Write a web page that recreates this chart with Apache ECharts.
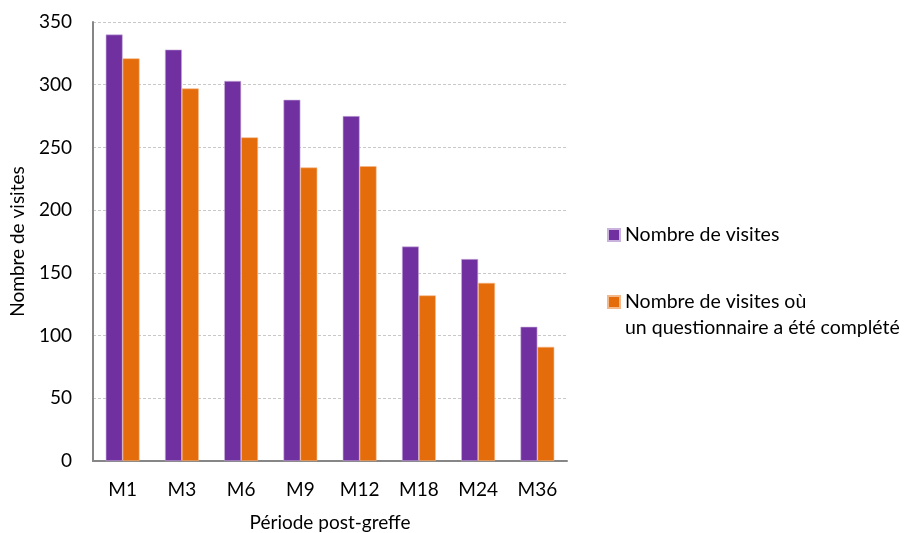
<!DOCTYPE html>
<html>
<head>
<meta charset="utf-8">
<script src="https://cdn.jsdelivr.net/npm/echarts@6/dist/echarts.min.js"></script>
<style>
  html, body { margin: 0; padding: 0; background: #fff; }
  #chart { width: 907px; height: 533px; }
</style>
</head>
<body>
<div id="chart"></div>
<script>
// Visit periods after the transplant
const periods = ['M1', 'M3', 'M6', 'M9', 'M12', 'M18', 'M24', 'M36'];
// Number of visits per period
const visits = [340, 328, 303, 288, 275, 171, 161, 107];
// Number of visits where a questionnaire was completed
const visitsWithQuestionnaire = [321, 297, 258, 234, 235, 132, 142, 91];
// Y axis ticks
const yTicks = [0, 50, 100, 150, 200, 250, 300, 350];

const seriesNames = ['Nombre de visites', 'Nombre de visites où\nun questionnaire a été complété'];

const FONT = 'Lato';
const FS = 19;
const chart = echarts.init(document.getElementById('chart'), null, { renderer: 'canvas' });

chart.setOption({
  animation: false,
  textStyle: { fontFamily: FONT, color: '#000' },
  grid: { left: 93, right: 340, top: 22, bottom: 72, containLabel: false, outerBoundsMode: 'none' },
  legend: [
    {
      data: [seriesNames[0]],
      orient: 'vertical',
      left: 607, top: 225,
      padding: 0,
      itemWidth: 12, itemHeight: 12, itemGap: 0,
      icon: 'rect',
      textStyle: { fontFamily: FONT, fontSize: 19.5, color: '#000' }
    },
    {
      // blank leading line keeps the swatch level with the first text line
      data: [seriesNames[1]],
      orient: 'vertical',
      left: 607, top: 263,
      padding: 0,
      itemWidth: 12, itemHeight: 12, itemGap: 0,
      icon: 'rect',
      formatter: name => '\n' + name,
      textStyle: { fontFamily: FONT, fontSize: 19.5, color: '#000', lineHeight: 26 }
    }
  ],
  xAxis: {
    type: 'category',
    data: periods,
    name: 'Période post-greffe',
    nameLocation: 'middle',
    nameGap: 52,
    nameTextStyle: { fontFamily: FONT, fontSize: FS, color: '#000' },
    axisLine: { lineStyle: { color: '#868686', width: 2 } },
    axisTick: { show: false },
    axisLabel: { fontFamily: FONT, fontSize: FS, color: '#000', margin: 19 }
  },
  yAxis: {
    type: 'value',
    min: yTicks[0],
    max: yTicks[yTicks.length - 1],
    interval: yTicks[1] - yTicks[0],
    name: 'Nombre de visites',
    nameLocation: 'middle',
    nameGap: 66,
    nameRotate: 90,
    nameTextStyle: { fontFamily: FONT, fontSize: FS, color: '#000' },
    axisLine: { show: true, lineStyle: { color: '#868686', width: 2 } },
    axisTick: { show: false },
    axisLabel: { fontFamily: FONT, fontSize: FS, color: '#000', margin: 21 },
    splitLine: { lineStyle: { color: '#c8c8c8', type: [3, 2], width: 1 } }
  },
  series: [
    {
      name: seriesNames[0],
      type: 'bar',
      data: visits,
      barGap: '0%',
      barCategoryGap: '43%',
      itemStyle: { color: '#7030A0', borderColor: '#c9b2dc', borderWidth: 0.6 }
    },
    {
      name: seriesNames[1],
      type: 'bar',
      data: visitsWithQuestionnaire,
      itemStyle: { color: '#E46C0A', borderColor: '#f4b98a', borderWidth: 0.6 }
    }
  ]
});
</script>
</body>
</html>
